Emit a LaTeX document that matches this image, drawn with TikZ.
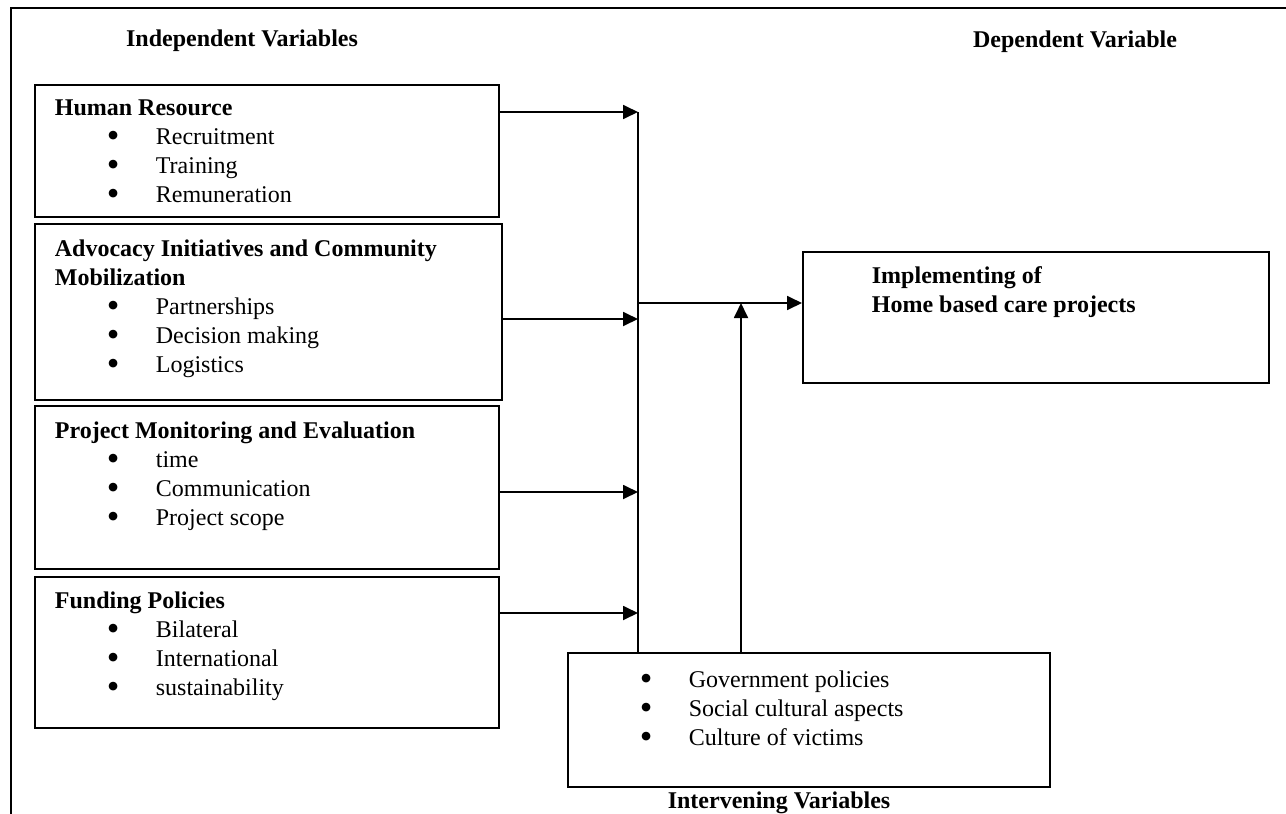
\documentclass[tikz,border=0pt]{standalone}
\usepackage{fontspec}
\setmainfont{Liberation Serif}
\usepackage{tikz}
\usetikzlibrary{calc}
\usetikzlibrary{arrows.meta}
\tikzset{
	boxstyle/.style={rectangle,draw=black,line width=0.9pt,fill=white,inner sep=0pt,anchor=north west},
	headstyle/.style={anchor=base,font=\bfseries,inner sep=0pt},
	linkstyle/.style={line width=0.9pt},
	arrowstyle/.style={line width=0.9pt,-{Triangle[length=7.5pt,width=7pt]}}
}
\newcommand{\bitem}[1]{\hspace*{36pt}\makebox[24.5pt][l]{\smash{\raisebox{-1.4pt}{\scalebox{1.5}{\textbullet}}}}#1}
\newcommand{\btitle}[1]{\hspace*{10pt}\textbf{#1}}

\begin{document}
\begin{tikzpicture}[x=0.5pt,y=-0.5pt]
	\fontsize{12}{14.5}\selectfont
	\useasboundingbox (0,0) rectangle (1286,814);
	\draw[line width=0.9pt] (11,814)--(11,8)--(1286,8);
	\node[headstyle] (indep) at (242,46) {Independent Variables};
	\node[headstyle] (dephead) at (1075,47) {Dependent Variable};
	\node[boxstyle] (hr) at (34,84) {\parbox[t][66pt][t]{232pt}{\rule{0pt}{15.5pt}\btitle{Human Resource}\\
		\bitem{Recruitment}\\ \bitem{Training}\\ \bitem{Remuneration}}};
	\node[boxstyle] (adv) at (34,223) {\parbox[t][88pt][t]{233.5pt}{\rule{0pt}{16.5pt}\btitle{Advocacy Initiatives and Community}\\
		\btitle{Mobilization}\\ \bitem{Partnerships}\\ \bitem{Decision making}\\ \bitem{Logistics}}};
	\node[boxstyle] (me) at (34,405) {\parbox[t][81.5pt][t]{232pt}{\rule{0pt}{16.5pt}\btitle{Project Monitoring and Evaluation}\\
		\bitem{time}\\ \bitem{Communication}\\ \bitem{Project scope}}};
	\node[boxstyle] (fund) at (34,576) {\parbox[t][75.5pt][t]{232pt}{\rule{0pt}{16pt}\btitle{Funding Policies}\\
		\bitem{Bilateral}\\ \bitem{International}\\ \bitem{sustainability}}};
	\node[boxstyle] (dep) at (802,251) {\parbox[t][65.5pt][t]{233pt}{\rule{0pt}{16pt}\hspace*{34.5pt}\textbf{Implementing of}\\
		\hspace*{34.5pt}\textbf{Home based care projects}}};
	\node[boxstyle] (inter) at (567,652) {\parbox[t][67pt][t]{241pt}{\rule{0pt}{17.5pt}\bitem{Government policies}\\
		\bitem{Social cultural aspects}\\ \bitem{Culture of victims}}};
	\node[headstyle] (interhead) at (779,808) {Intervening Variables};
	\coordinate (b1) at (638,112);
	\coordinate (b2) at (638,319);
	\coordinate (b3) at (638,492);
	\coordinate (b4) at (638,613);
	\coordinate (bm) at (638,303);
	\coordinate (up) at (741,303);
	\draw[linkstyle] (b1)--(b1 |- inter.north);
	\draw[arrowstyle] (hr.east |- b1)--(b1);
	\draw[arrowstyle] (adv.east |- b2)--(b2);
	\draw[arrowstyle] (me.east |- b3)--(b3);
	\draw[arrowstyle] (fund.east |- b4)--(b4);
	\draw[arrowstyle] (bm)--(bm -| dep.west);
	\draw[arrowstyle] (up |- inter.north)--(up);
\end{tikzpicture}
\end{document}
